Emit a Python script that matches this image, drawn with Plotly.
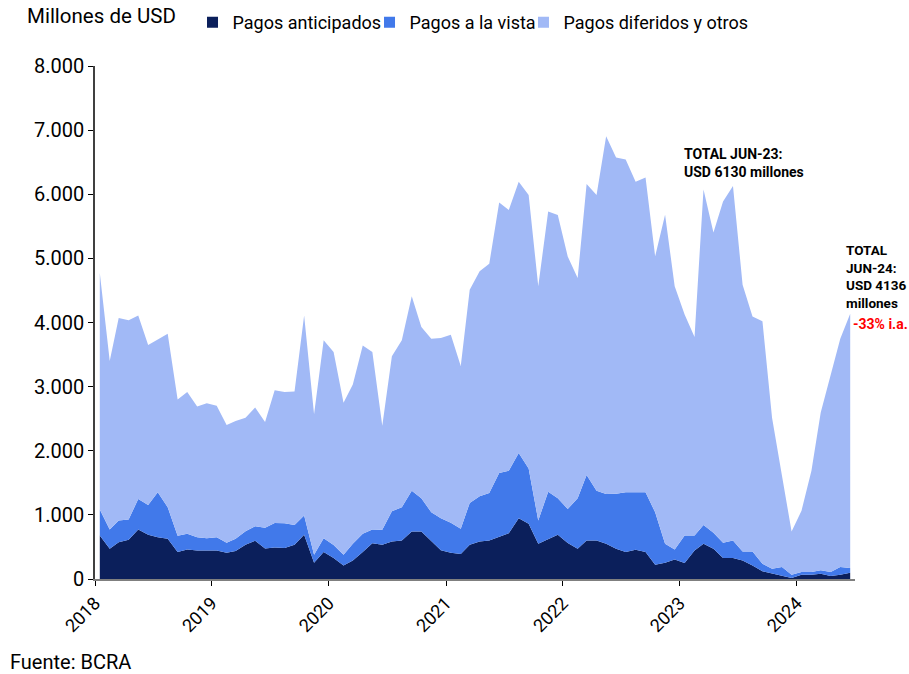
import pandas as pd
import plotly.graph_objects as go

# monthly, Jan-2018 .. Jun-2024 (millones de USD)
meses = pd.date_range("2018-01-01", periods=78, freq="MS") + pd.Timedelta(days=15)

anticipados = [
    679, 471, 575, 611, 772, 689, 653, 627, 420, 461, 445, 445,
    445, 409, 435, 534, 596, 477, 492, 482, 534, 689, 254, 420,
    326, 212, 290, 420, 559, 534, 585, 601, 741, 741, 585, 450,
    409, 389, 534, 585, 601, 653, 715, 948, 860, 549, 616, 689,
    560, 471, 601, 601, 549, 471, 420, 456, 420, 223, 254, 306,
    250, 445, 549, 471, 326, 326, 290, 212, 119, 83, 57, 16,
    67, 67, 83, 47, 67, 98,
]
a_la_vista = [
    404, 301, 337, 316, 476, 466, 699, 492, 253, 244, 208, 192,
    205, 156, 192, 212, 228, 321, 383, 388, 310, 300, 124, 217,
    204, 166, 259, 285, 213, 233, 472, 518, 637, 518, 456, 498,
    467, 393, 652, 705, 741, 999, 974, 1015, 865, 363, 746, 570,
    530, 788, 1020, 777, 777, 860, 932, 896, 932, 818, 295, 155,
    429, 234, 295, 249, 239, 275, 140, 218, 119, 78, 129, 51,
    42, 42, 52, 62, 119, 73,
]
diferidos = [
    3687, 2628, 3158, 3108, 2862, 2495, 2383, 2706, 2127, 2210, 2037, 2103,
    2050, 1835, 1838, 1769, 1851, 1652, 2070, 2045, 2081, 3121, 2192, 3088,
    3010, 2372, 2486, 2935, 2768, 1623, 2418, 2606, 3032, 2671, 2704, 2812,
    2934, 2538, 3324, 3510, 3573, 4218, 4066, 4232, 4265, 3653, 4368, 4416,
    3940, 3436, 4539, 4612, 5579, 5244, 5188, 4843, 4909, 3991, 5130, 4104,
    3446, 3096, 5231, 4685, 5320, 5529, 4160, 3665, 3782, 2354, 1424, 673,
    956, 1581, 2460, 3056, 3559, 3965,
]
years = ["2018", "2019", "2020", "2021", "2022", "2023", "2024"]

FONT = "Roboto"
series = [
    ("Pagos anticipados", anticipados, "#0B1F5B", "legend"),
    ("Pagos a la vista", a_la_vista, "#4179EA", "legend2"),
    ("Pagos diferidos y otros", diferidos, "#A1B9F6", "legend3"),
]

fig = go.Figure()
for name, vals, color, leg in series:
    fig.add_trace(go.Scatter(
        x=meses, y=vals, name=name, mode="lines",
        stackgroup="one", line=dict(width=0, color=color),
        fillcolor=color, showlegend=False,
    ))
    # square swatch for the legend
    fig.add_trace(go.Scatter(
        x=[None], y=[None], name=name, mode="markers", legend=leg,
        marker=dict(symbol="square", size=11, color=color),
    ))

# container-anchored legends, kept high enough not to push the top margin
leg_common = dict(orientation="h", yref="container", y=0.9665, xanchor="left", yanchor="middle",
                  font=dict(size=18), itemwidth=30, bgcolor="rgba(0,0,0,0)")
fig.update_layout(
    width=909, height=674,
    margin=dict(l=95, r=54, t=66, b=95),
    plot_bgcolor="white", paper_bgcolor="white",
    separators=",.",
    font=dict(family=FONT, color="black"),
    legend=dict(x=0.1283, **leg_common),
    legend2=dict(x=0.3612, **leg_common),
    legend3=dict(x=0.5638, **leg_common),
)
fig.update_xaxes(
    range=["2018-01-01", "2024-07-01"],
    tickvals=[f"{y}-01-01" for y in years], ticktext=years,
    tickangle=-45, tickfont=dict(size=18),
    showline=True, linecolor="#7f7f7f", linewidth=1.5,
    ticks="outside", ticklen=5, tickcolor="black",
    showgrid=False, zeroline=False,
)
fig.update_yaxes(
    range=[0, 8000], tickvals=list(range(0, 8001, 1000)), tickformat=",d",
    tickfont=dict(size=20),
    showline=True, linecolor="#404040", linewidth=1.5,
    ticks="outside", ticklen=5, tickcolor="black",
    showgrid=False, zeroline=False,
)

fig.add_annotation(text="Millones de USD", xref="paper", yref="paper",
                   x=-0.0926, y=1.097, xanchor="left", yanchor="middle",
                   showarrow=False, font=dict(size=20.5))
fig.add_annotation(text="Fuente: BCRA", xref="paper", yref="paper",
                   x=-0.1145, y=-0.162, xanchor="left", yanchor="middle",
                   showarrow=False, font=dict(size=20))
fig.add_annotation(text="<b>TOTAL JUN-23:<br>USD 6130 millones</b>", xref="paper", yref="y",
                   x=0.773, y=6780, xanchor="left", yanchor="top", align="left",
                   showarrow=False, font=dict(size=14))
fig.add_annotation(text="<b>TOTAL<br>JUN-24:<br>USD 4136<br>millones</b>", xref="paper", yref="y",
                   x=0.985, y=5280, xanchor="left", yanchor="top", align="left",
                   showarrow=False, font=dict(size=13.5))
fig.add_annotation(text="<b>-33% i.a.</b>", xref="paper", yref="y",
                   x=0.995, y=3980, xanchor="left", yanchor="middle", align="left",
                   showarrow=False, font=dict(size=14, color="#FF0000"))

# drop the default 8px body margin so the figure fills the window exactly
fig.write_html("out.html", config={"displayModeBar": False},
               post_script="document.body.style.margin='0';")
